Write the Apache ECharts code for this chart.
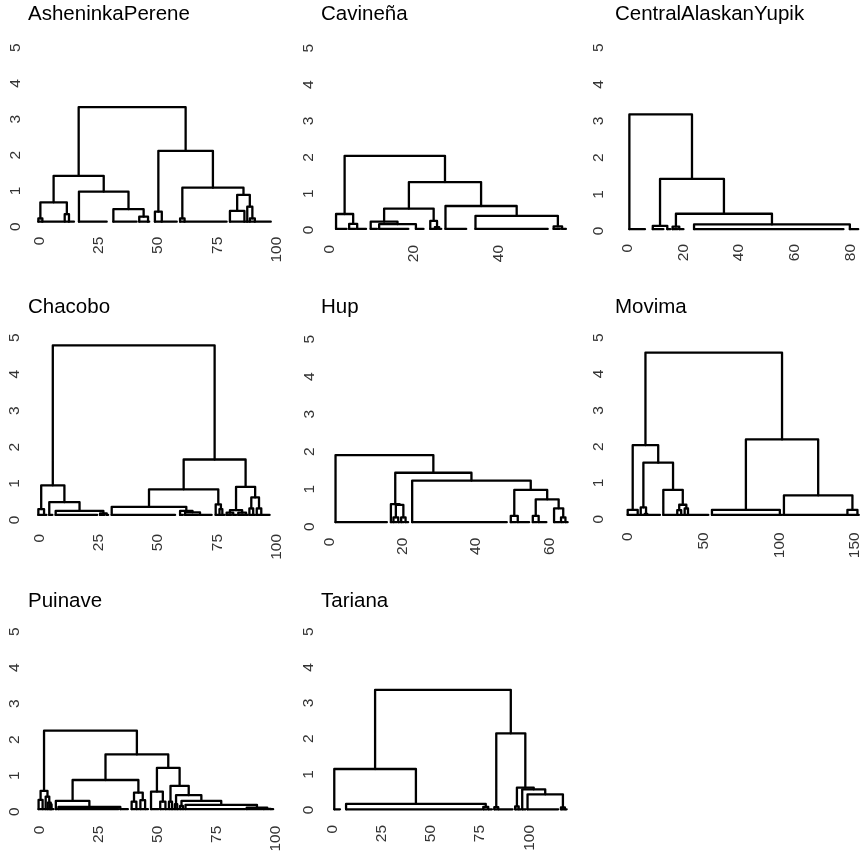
<!DOCTYPE html>
<html><head><meta charset="utf-8">
<script src="https://cdn.jsdelivr.net/npm/echarts@6/dist/echarts.min.js"></script>
<style>html,body{margin:0;padding:0;background:#fff}#c{width:864px;height:851px}</style>
</head><body><div id="c"></div>
<script>
// ---- data (x = position, y = height) ----
const panelNames = ['AsheninkaPerene', 'Cavineña', 'CentralAlaskanYupik', 'Chacobo', 'Hup', 'Movima', 'Puinave', 'Tariana'];
const leafHeights = [0.14, 0.03, 0.05, 0.14, 0.12, 0.12, 0.07, 0.02];
const xTickStep = [25, 20, 20, 25, 20, 50, 25, 25];
const xTickMax = [100, 40, 80, 100, 60, 150, 100, 100];
const yTickMax = 5;
const yTickStep = 1;

// leaves: [start, end]; trees: [height, left, right], numbers = leaf index
const asheninkaLeaves = [[-0.4,0.9],[1.3,10.1],[10.7,12.1],[12.5,14.6],[16.7,28.4],[31.2,41],[42.1,45.4],[45.8,46.3],[48.7,51.2],[51.6,57.9],[59.3,60.8],[61.2,78.9],[80.3,86],[86.4,87.2],[87.6,88.3],[88.7,90.4],[90.8,97.5]];
const asheninkaTree = [3.34, [1.42, [0.68, [0.23, 0, 1], [0.35, 2, 3]], [0.98, 4, [0.49, 5, [0.28, 6, 7]]]], [2.12, [0.42, 8, 9], [1.09, [0.23, 10, 11], [0.89, [0.44, 12, 13], [0.56, 14, [0.23, 15, 16]]]]]];

const cavinenaLeaves = [[1.6,4.1],[4.7,6.2],[6.6,8.7],[9.8,11.3],[11.8,18.7],[20.5,22.3],[23.9,24.7],[25.0,25.6],[26.0,26.5],[27.5,32.4],[34.6,51.7],[53.1,54.6],[55.1,56]];
const cavinenaTree = [2.04, [0.44, 0, [0.17, 1, 2]], [1.32, [0.59, [0.23, 3, [0.16, 4, 5]], [0.25, 6, [0.08, 7, 8]]], [0.66, 9, [0.39, 10, [0.1, 11, 12]]]]];

const yupikLeaves = [[0.6,6.2],[9,12.8],[14.2,15.3],[16.1,17.9],[18.5,20],[23.8,77.4],[79.7,82.7]];
const yupikTree = [3.18, 0, [1.42, [0.14, 1, 2], [0.47, [0.12, 3, 4], [0.18, 5, 6]]]];

const chacoboLeaves = [[-0.4,1.5],[2.0,3.0],[4.2,5.5],[6.9,24.4],[25.6,27.5],[28.4,29],[30.5,57.2],[59.3,60.5],[61.4,67],[67.7,72.6],[74.3,75.5],[75.9,76.7],[77.1,78],[78.9,80.9],[81.7,83],[83.8,86.5],[87.1,87.8],[88.5,89.7],[90.1,90.9],[91.6,93],[93.5,97]];
const chacoboTree = [4.79, [0.95, [0.3, 0, 1], [0.49, 2, [0.25, 3, [0.18, 4, 5]]]], [1.66, [0.84, [0.36, 6, [0.25, 7, [0.21, 8, 9]]], [0.43, 10, [0.3, 11, 12]]], [0.91, [0.27, [0.2, 13, 14], [0.2, 15, 16]], [0.62, [0.32, 17, 18], [0.32, 19, 20]]]]];

const hupLeaves = [[1.7,15.7],[16.8,17.2],[17.5,18.4],[18.8,19.3],[19.6,20.4],[20.8,21.5],[22.6,48.4],[49.5,51],[51.4,54.5],[55.5,56.7],[57.1,59.2],[61.3,62.8],[63.2,64],[64.4,65]];
const hupTree = [1.91, 0, [1.44, [0.6, 1, [0.58, [0.25, 2, 3], [0.25, 4, 5]]], [1.23, 6, [0.98, [0.29, 7, 8], [0.73, [0.29, 9, 10], [0.49, 11, [0.25, 12, 13]]]]]]];

const movimaLeaves = [[0,6],[6.6,8],[8.6,10.7],[11.3,12.5],[12.9,21.3],[23.5,31.8],[32.7,34.7],[35.3,37],[37.6,39.2],[39.8,53.2],[55.6,99.6],[100.4,102],[103.1,144.5],[145,151],[151.6,152.5]];
const movimaTree = [4.59, [2.04, [0.26, 0, 1], [1.56, [0.33, 2, [0.15, 3, 4]], [0.81, 5, [0.4, [0.25, 6, 7], [0.3, 8, 9]]]]], [2.2, [0.26, 10, 11], [0.66, 12, [0.26, 13, 14]]]];

const puinaveLeaves = [[-0.3,1],[1.4,2.3],[2.7,3.3],[3.6,4.2],[4.5,4.9],[5.2,6],[7,7.6],[8.1,33.5],[34.3,37.5],[39.1,40.6],[41.1,42.3],[42.8,44.3],[44.8,46],[47.3,50.5],[51.2,52.8],[53.4,54.3],[54.9,55.9],[56.2,56.9],[57.4,58],[58.4,59.1],[59.6,60.3],[60.8,61.4],[61.9,87.2],[87.8,94.5],[95,97.5],[98,99]];
const puinaveTree = [2.25, [0.58, [0.33, 0, 1], [0.42, 2, [0.25, 3, [0.2, 4, 5]]]], [1.59, [0.88, [0.3, 6, [0.13, 7, 8]], [0.53, [0.28, 9, 10], [0.32, 11, 12]]], [1.22, [0.56, 13, [0.28, 14, 15]], [0.72, [0.28, 16, 17], [0.46, [0.21, 18, 19], [0.3, [0.16, 20, 21], [0.19, 22, [0.11, 23, [0.08, 24, 25]]]]]]]]];

const tarianaLeaves = [[0.8,3.7],[6.8,76],[76.6,78.5],[79.1,81],[82.2,83.7],[84.2,91.5],[92.8,94.1],[94.6,95.8],[96.4,98.3],[99.1,114.7],[116.1,117.5],[118.1,119]];
const tarianaTree = [3.37, [1.15, 0, [0.17, 1, [0.09, 2, 3]]], [2.15, [0.08, 4, 5], [0.63, [0.1, 6, 7], [0.58, 8, [0.44, 9, [0.07, 10, 11]]]]]];

const allLeaves = [asheninkaLeaves, cavinenaLeaves, yupikLeaves, chacoboLeaves, hupLeaves, movimaLeaves, puinaveLeaves, tarianaLeaves];
const allTrees = [asheninkaTree, cavinenaTree, yupikTree, chacoboTree, hupTree, movimaTree, puinaveTree, tarianaTree];

// ---- layout (pixels) ----
const layout = [
  {x0: 39.3, x1: 276.7, y0: 226.7, y5: 47.7, xm: 10, ym: 16},
  {x0: 329.3, x1: 498.3, y0: 230, y5: 48.3, xm: 15, ym: 13},
  {x0: 627.7, x1: 850.7, y0: 231, y5: 47.7, xm: 13, ym: 21},
  {x0: 39.3, x1: 276.7, y0: 520, y5: 337.7, xm: 14, ym: 17},
  {x0: 329.3, x1: 549.3, y0: 526.7, y5: 339.3, xm: 11, ym: 12},
  {x0: 627.7, x1: 855, y0: 519.3, y5: 337.7, xm: 13, ym: 20.5},
  {x0: 39.3, x1: 275.5, y0: 811.7, y5: 631.7, xm: 14, ym: 17},
  {x0: 332.7, x1: 529.3, y0: 810, y5: 631.7, xm: 15, ym: 16}
];
const titlePos = [[28, 2], [321, 2], [615, 2], [28, 295], [321, 295], [615, 295], [28, 589], [321, 589]];
const FONT = 'Liberation Sans, Arial, Helvetica, sans-serif';

function buildSegments(leaves, tree, base) {
  const segs = [];
  leaves.forEach(l => segs.push({coords: [[l[0], base], [l[1], base]]}));
  function walk(node) {
    if (typeof node === 'number') return {x: leaves[node][0], y: base};
    const h = node[0];
    const a = walk(node[1]);
    const b = walk(node[2]);
    segs.push({coords: [[a.x, a.y], [a.x, h], [b.x, h], [b.x, b.y]]});
    return {x: (a.x + b.x) / 2, y: h};
  }
  walk(tree);
  return segs;
}

const grids = [], xAxes = [], yAxes = [], series = [], titles = [];
panelNames.forEach((name, i) => {
  const L = layout[i];
  grids.push({left: L.x0, top: L.y5, width: L.x1 - L.x0, height: L.y0 - L.y5, containLabel: false, outerBoundsMode: 'none'});
  xAxes.push({
    type: 'value', gridIndex: i, min: 0, max: xTickMax[i], interval: xTickStep[i],
    axisLine: {show: false}, axisTick: {show: false}, splitLine: {show: false},
    axisLabel: {rotate: 90, margin: L.xm, fontSize: 15.5, color: '#333', fontFamily: FONT, showMinLabel: true, showMaxLabel: true}
  });
  yAxes.push({
    type: 'value', gridIndex: i, min: 0, max: yTickMax, interval: yTickStep,
    axisLine: {show: false}, axisTick: {show: false}, splitLine: {show: false},
    axisLabel: {rotate: 90, margin: L.ym, fontSize: 15.5, color: '#333', fontFamily: FONT}
  });
  series.push({
    type: 'lines', coordinateSystem: 'cartesian2d', xAxisIndex: i, yAxisIndex: i,
    polyline: true, clip: false, silent: true, animation: false,
    lineStyle: {color: '#000', width: 2.3, opacity: 1, cap: 'round', join: 'round'},
    data: buildSegments(allLeaves[i], allTrees[i], leafHeights[i])
  });
  titles.push({
    text: name, left: titlePos[i][0], top: titlePos[i][1], padding: 0,
    textStyle: {fontSize: 20.5, fontWeight: 'normal', color: '#000', fontFamily: FONT, lineHeight: 24}
  });
});

const chart = echarts.init(document.getElementById('c'), null, {renderer: 'canvas'});
chart.setOption({
  backgroundColor: '#fff', animation: false,
  title: titles, grid: grids, xAxis: xAxes, yAxis: yAxes, series: series
});
</script>
</body></html>
